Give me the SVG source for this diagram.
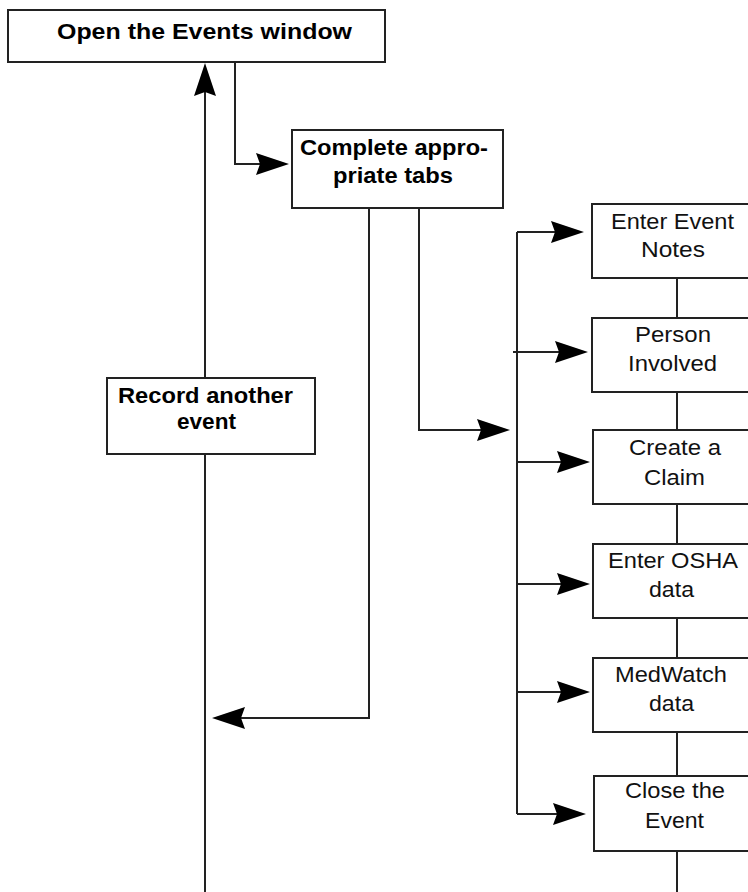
<svg xmlns="http://www.w3.org/2000/svg" xmlns:xlink="http://www.w3.org/1999/xlink" width="748" height="892" viewBox="0 0 748 892">
<defs>
<style>
.box{fill:#fff;stroke:#222;stroke-width:2}
.ln{fill:none;stroke:#222;stroke-width:2}
.b{font-family:"Liberation Sans",Arial,sans-serif;font-weight:bold;font-size:22px;fill:#000}
.r{font-family:"Liberation Sans",Arial,sans-serif;font-size:22px;fill:#111}
</style>
<path id="ah" d="M0,0 L-33,-11 L-29,0 L-33,11 Z" fill="#000"/>
</defs>
<rect width="748" height="892" fill="#fff"/>
<g id="connectors">
<path class="ln" d="M205,80 V892"/>
<path class="ln" d="M235,62 V164 H260"/>
<path class="ln" d="M369,208 V718 H235"/>
<path class="ln" d="M419,208 V430 H485"/>
<path class="ln" d="M517,232 V814"/>
<path class="ln" d="M517,232 H560"/>
<path class="ln" d="M513,352 H562"/>
<path class="ln" d="M517,462 H562"/>
<path class="ln" d="M517,584 H562"/>
<path class="ln" d="M517,692 H562"/>
<path class="ln" d="M517,814 H560"/>
<path class="ln" d="M677,278 V318 M677,392 V430 M677,504 V544 M677,618 V658 M677,732 V776 M677,851 V892"/>
<use xlink:href="#ah" transform="translate(205,63) rotate(-90)"/>
<use xlink:href="#ah" transform="translate(289,164)"/>
<use xlink:href="#ah" transform="translate(212,718) rotate(180)"/>
<use xlink:href="#ah" transform="translate(510,430)"/>
<use xlink:href="#ah" transform="translate(584,232)"/>
<use xlink:href="#ah" transform="translate(588,352)"/>
<use xlink:href="#ah" transform="translate(590,462)"/>
<use xlink:href="#ah" transform="translate(590,584)"/>
<use xlink:href="#ah" transform="translate(590,692)"/>
<use xlink:href="#ah" transform="translate(586,814)"/>
</g>
<g id="open-events">
<rect class="box" x="8" y="10" width="377" height="52"/>
<text class="b" x="57" y="39" textLength="295" lengthAdjust="spacingAndGlyphs">Open the Events window</text>
</g>
<g id="complete-tabs">
<rect class="box" x="292" y="130" width="211" height="78"/>
<text class="b" x="300" y="155" textLength="188" lengthAdjust="spacingAndGlyphs">Complete appro-</text>
<text class="b" x="333" y="183" textLength="120" lengthAdjust="spacingAndGlyphs">priate tabs</text>
</g>
<g id="record-another">
<rect class="box" x="107" y="378" width="208" height="76"/>
<text class="b" x="118" y="403" textLength="175" lengthAdjust="spacingAndGlyphs">Record another</text>
<text class="b" x="177" y="429" textLength="59" lengthAdjust="spacingAndGlyphs">event</text>
</g>
<g id="event-notes">
<rect class="box" x="592" y="204" width="170" height="74"/>
<text class="r" x="611" y="229" textLength="123" lengthAdjust="spacingAndGlyphs">Enter Event</text>
<text class="r" x="641" y="257" textLength="64" lengthAdjust="spacingAndGlyphs">Notes</text>
</g>
<g id="person-involved">
<rect class="box" x="592" y="318" width="170" height="74"/>
<text class="r" x="635" y="342" textLength="76" lengthAdjust="spacingAndGlyphs">Person</text>
<text class="r" x="628" y="371" textLength="89" lengthAdjust="spacingAndGlyphs">Involved</text>
</g>
<g id="create-claim">
<rect class="box" x="593" y="430" width="170" height="74"/>
<text class="r" x="629" y="455" textLength="92" lengthAdjust="spacingAndGlyphs">Create a</text>
<text class="r" x="644" y="485" textLength="61" lengthAdjust="spacingAndGlyphs">Claim</text>
</g>
<g id="osha-data">
<rect class="box" x="593" y="544" width="170" height="74"/>
<text class="r" x="608" y="568" textLength="130" lengthAdjust="spacingAndGlyphs">Enter OSHA</text>
<text class="r" x="649" y="597" textLength="45" lengthAdjust="spacingAndGlyphs">data</text>
</g>
<g id="medwatch-data">
<rect class="box" x="593" y="658" width="170" height="74"/>
<text class="r" x="615" y="682" textLength="112" lengthAdjust="spacingAndGlyphs">MedWatch</text>
<text class="r" x="649" y="711" textLength="45" lengthAdjust="spacingAndGlyphs">data</text>
</g>
<g id="close-event">
<rect class="box" x="594" y="776" width="170" height="75"/>
<text class="r" x="625" y="798" textLength="100" lengthAdjust="spacingAndGlyphs">Close the</text>
<text class="r" x="645" y="828" textLength="59" lengthAdjust="spacingAndGlyphs">Event</text>
</g>
</svg>
